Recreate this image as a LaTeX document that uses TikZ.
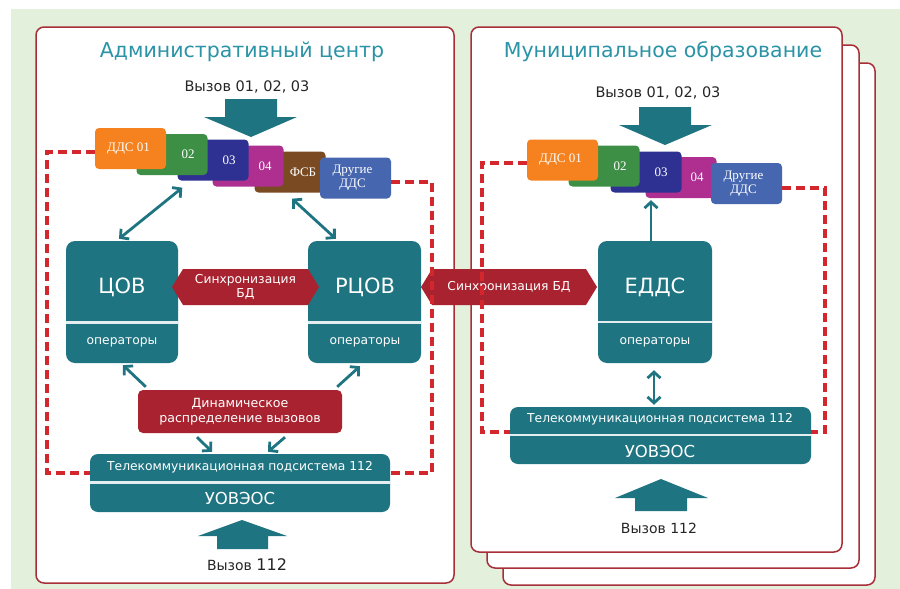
\documentclass[tikz,border=0pt]{standalone}
\usepackage{fontspec}
\setmainfont{DejaVu Sans}
\newfontfamily\ddsfont{Liberation Serif}
\usetikzlibrary{positioning,arrows.meta,shapes.arrows}

\definecolor{bggreen}{HTML}{E2F0DC}
\definecolor{unitteal}{HTML}{1E7481}
\definecolor{titleteal}{HTML}{2A93A6}
\definecolor{syncred}{HTML}{A8232F}
\definecolor{dashred}{HTML}{D3262D}
\definecolor{panelred}{HTML}{A82E38}
\definecolor{ddsorange}{HTML}{F5821F}
\definecolor{ddsgreen}{HTML}{3D8F45}
\definecolor{ddsnavy}{HTML}{2E3192}
\definecolor{ddsmagenta}{HTML}{AE2F8F}
\definecolor{ddsbrown}{HTML}{7A4A23}
\definecolor{ddsblue}{HTML}{4666B0}

\begin{document}
\begin{tikzpicture}[x=1pt,y=-1pt,
  panel/.style={draw=panelred, line width=1.5pt, fill=white, rounded corners=8pt},
  title/.style={text=titleteal, font=\fontsize{20.5}{24}\selectfont},
  calltxt/.style={text=black!85, font=\fontsize{14.5}{17}\selectfont},
  dds/.style={rounded corners=4pt, minimum width=71pt, minimum height=41pt, inner sep=0pt},
  ddstxt/.style={text=white, align=center, font=\ddsfont\fontsize{13}{14}\selectfont},
  unit/.style={fill=unitteal, rounded corners=9pt, minimum height=122pt, inner sep=0pt},
  unitname/.style={text=white, font=\fontsize{21}{24}\selectfont},
  opstxt/.style={text=white, font=\fontsize{12.3}{14}\selectfont},
  sepline/.style={draw=white!88!unitteal, line width=2.5pt},
  sync/.style={double arrow, double arrow head extend=0pt, double arrow tip angle=117,
    fill=syncred, text=white, minimum width=36pt, inner sep=2pt, align=center,
    font=\fontsize{12.3}{14}\selectfont},
  dyn/.style={fill=syncred, rounded corners=5pt, minimum width=204pt, minimum height=43pt,
    text=white, align=center, font=\fontsize{12.6}{15}\selectfont},
  tele/.style={fill=unitteal, rounded corners=8pt, minimum height=58pt, inner sep=0pt},
  teletxt/.style={text=white, font=\fontsize{12.3}{14}\selectfont},
  uovtxt/.style={text=white, font=\fontsize{16.5}{19}\selectfont},
  redash/.style={draw=dashred, line width=3.2pt, dash pattern=on 9pt off 5pt},
  arr/.style={draw=unitteal, line width=2.8pt, -{Straight Barb[length=6pt,width=13pt]}},
  dblarr/.style={draw=unitteal, line width=2.8pt,
    {Straight Barb[length=6pt,width=13pt]}-{Straight Barb[length=6pt,width=13pt]}},
  bigarr/.style={fill=unitteal}]

\useasboundingbox (0,0) rectangle (900,589);
\fill[bggreen] (11,9) rectangle (900,589);

% panels
\draw[panel] (503,63) rectangle (875,585);
\draw[panel] (487,45) rectangle (859,568);
\draw[panel] (471,27) rectangle (842,552);
\draw[panel] (36,27) rectangle (454,583);

\node[title] (ltitle) at (242,52) {Административный центр};
\node[title] (rtitle) at (663,52) {Муниципальное образование};
\node[calltxt] (lcall) at (247,87) {Вызов 01, 02, 03};
\node[calltxt] (rcall) at (658,93) {Вызов 01, 02, 03};

% left DDS row
\node[dds, fill=ddsbrown, label={[ddstxt,xshift=13pt]center:ФСБ}] (ldds05) at (290,172) {};
\node[dds, fill=ddsblue, label={[ddstxt,xshift=-3pt]center:Другие\\ДДС}] (ldds06) at (355.5,178) {};
\node[dds, fill=ddsmagenta, label={[ddstxt,xshift=17pt]center:04}] (ldds04) at (248,166) {};
\node[dds, fill=ddsnavy, label={[ddstxt,xshift=16pt]center:03}] (ldds03) at (213,160) {};
\node[dds, fill=ddsgreen, label={[ddstxt,xshift=16pt]center:02}] (ldds02) at (172,154.5) {};
\node[dds, fill=ddsorange, label={[ddstxt,xshift=-2pt]center:ДДС 01}] (ldds01) at (130.5,148.5) {};

% right DDS row
\node[dds, fill=ddsmagenta, label={[ddstxt,xshift=16pt]center:04}] (rdds04) at (681,177.5) {};
\node[dds, fill=ddsblue, label={[ddstxt,xshift=-3pt]center:Другие\\ДДС}] (rdds05) at (746.5,183.5) {};
\node[dds, fill=ddsnavy, label={[ddstxt,xshift=15pt]center:03}] (rdds03) at (646,172) {};
\node[dds, fill=ddsgreen, label={[ddstxt,xshift=16pt]center:02}] (rdds02) at (604,166) {};
\node[dds, fill=ddsorange, label={[ddstxt,xshift=-2pt]center:ДДС 01}] (rdds01) at (562.5,160) {};

% incoming calls
\fill[bigarr] (225,99) -- (277,99) -- (277,117) -- (297,117) -- (251,137) -- (204,117) -- (225,117) -- cycle;
\fill[bigarr] (639,107) -- (691,107) -- (691,125) -- (712,125) -- (665,145) -- (619,125) -- (639,125) -- cycle;

% units
\node[unit, minimum width=112pt] (cov) at (122,302) {};
\node[unit, minimum width=113pt] (rcov) at (364.5,302) {};
\node[unit, minimum width=114pt] (redds) at (655,302) {};
\draw[sepline] ([yshift=40.5pt]cov.south west) -- ([yshift=40.5pt]cov.south east);
\draw[sepline] ([yshift=40.5pt]rcov.south west) -- ([yshift=40.5pt]rcov.south east);
\draw[sepline] ([yshift=41pt]redds.south west) -- ([yshift=41pt]redds.south east);
\node[unitname] (covname) at (122,287) {ЦОВ};
\node[unitname] (rcovname) at (365,287) {РЦОВ};
\node[unitname] (reddsname) at (655,287) {ЕДДС};
\node[opstxt] (covops) at (122,342) {операторы};
\node[opstxt] (rcovops) at (365,342) {операторы};
\node[opstxt] (reddsops) at (655,342) {операторы};

\node[sync, minimum height=147pt] (lsync) at (245.5,287) {Синхронизация\\БД};
\node[sync, minimum height=176pt] (rsync) at (509,287) {Синхронизация БД};

\node[dyn] (dyn) at (240,411.5) {Динамическое\\распределение вызовов};

% 112 subsystems
\node[tele, minimum width=300pt] (ltele) at (240,483) {};
\node[tele, minimum width=301pt, minimum height=57pt] (rtele) at (660.5,435.5) {};
\draw[sepline] ([yshift=29.5pt]ltele.south west) -- ([yshift=29.5pt]ltele.south east);
\draw[sepline] ([yshift=29pt]rtele.south west) -- ([yshift=29pt]rtele.south east);
\node[teletxt] (lteletxt) at (240,467) {Телекоммуникационная подсистема 112};
\node[teletxt] (rteletxt) at (660,419) {Телекоммуникационная подсистема 112};
\node[uovtxt] (luov) at (240,498) {УОВЭОС};
\node[uovtxt] (ruov) at (660,451) {УОВЭОС};

% dashed borders
\coordinate (lnw) at (47,152);
\coordinate (lne) at (432,182);
\coordinate (lse) at (432,473);
\draw[redash] (ldds01.west |- lnw) -- (lnw) |- (ltele.west |- lse);
\draw[redash] (ldds06.east |- lne) -- (lne) -- (lse) -- (ltele.east |- lse);
\coordinate (rnw) at (482,163);
\coordinate (rne) at (825,188);
\coordinate (rse) at (825,432);
\draw[redash] (rdds01.west |- rnw) -- (rnw) |- (rtele.west |- rse);
\draw[redash] (rdds05.east |- rne) -- (rne) -- (rse) -- (rtele.east |- rse);

% connectors
\draw[dblarr] ([shift={(5,7)}]ldds03.south west) -- ([shift={(-3,-2)}]cov.north);
\draw[dblarr] ([shift={(2,6)}]ldds05.south) -- ([shift={(28,-2)}]rcov.north west);
\draw[arr] ([shift={(8,-3)}]dyn.north west) -- ([shift={(1,2)}]cov.south);
\draw[arr] ([shift={(-5,-3)}]dyn.north east) -- ([shift={(-4.5,3)}]rcov.south);
\draw[arr] ([shift={(-43,4)}]dyn.south) -- ([shift={(-28,-2)}]ltele.north);
\draw[arr] ([shift={(45,4)}]dyn.south) -- ([shift={(28,-2)}]ltele.north);
\draw[arr, shorten >=2pt] ([xshift=-4pt]redds.north) -- ([xshift=-4pt]redds.north |- rdds04.south);
\draw[dblarr] ([shift={(-1,7)}]redds.south) -- ([shift={(-1,-2)}]redds.south |- rtele.north);

% 112 calls
\fill[bigarr] (217,549) -- (268,549) -- (268,536) -- (287,536) -- (242,520) -- (198,536) -- (217,536) -- cycle;
\fill[bigarr] (635,511) -- (687,511) -- (687,498) -- (708,498) -- (661,479) -- (615,498) -- (635,498) -- cycle;
\node[calltxt, font=\fontsize{14}{17}\selectfont] (lcall112) at (247,565) {Вызов {\fontsize{16}{17}\selectfont 112}};
\node[calltxt, font=\fontsize{14}{17}\selectfont] (rcall112) at (659,528) {Вызов 112};
\end{tikzpicture}
\end{document}
